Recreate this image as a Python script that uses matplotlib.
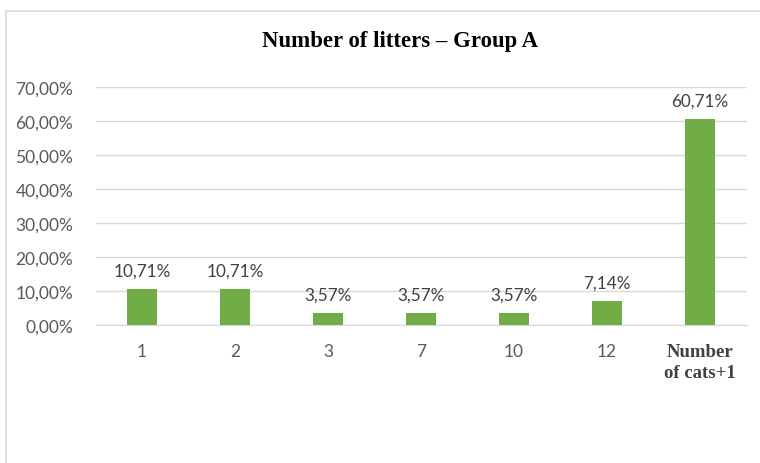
import matplotlib.pyplot as plt
from matplotlib.lines import Line2D
import numpy as np

categories = ["1", "2", "3", "7", "10", "12", "Number\nof cats+1"]
values = [10.71, 10.71, 3.57, 3.57, 3.57, 7.14, 60.71]
yticks = [0, 10, 20, 30, 40, 50, 60, 70]

fig = plt.figure(figsize=(7.6, 4.64), dpi=100)
ax = fig.add_axes([0.1257, 0.2974, 0.8566, 0.5129])

x = np.arange(len(categories))
ax.bar(x, values, width=0.32, color="#70AD47", zorder=3)

for xi, v in zip(x, values):
    ax.text(xi, v + 3.0, f"{v:.2f}%".replace(".", ","), ha="center", va="bottom",
            fontsize=12.3, color="#404040", family="Lato")

ax.set_xlim(-0.5, len(categories) - 0.5)
ax.set_ylim(0, 70)
ax.set_yticks(yticks)
ax.set_yticklabels([f"{t:.2f}%".replace(".", ",") for t in yticks],
                   fontsize=12.5, color="#595959", family="Lato")
ax.set_xticks(x)
ax.set_xticklabels(categories, fontsize=12.5, color="#595959", family="Lato")
last = ax.get_xticklabels()[-1]
last.set_family("Liberation Serif")
last.set_fontweight("bold")
last.set_fontsize(13.5)
last.set_color("#404040")
last.set_linespacing(1.3)

ax.tick_params(axis="both", length=0)
ax.tick_params(axis="x", pad=13)
ax.tick_params(axis="y", pad=16)
ax.grid(axis="y", color="#D9D9D9", linewidth=1, zorder=0)
for s in ax.spines.values():
    s.set_visible(False)
ax.spines["bottom"].set_visible(True)
ax.spines["bottom"].set_color("#D9D9D9")

fig.text(400 / 760, 1 - 42 / 464, "Number of litters – Group A", ha="center", va="center",
         fontsize=16.4, fontweight="bold", family="Liberation Serif")

# outer chart frame (left and top edges visible)
fig.add_artist(Line2D([6 / 760, 6 / 760], [0, 1 - 12 / 464], color="#D9D9D9", linewidth=1.2,
                      transform=fig.transFigure))
fig.add_artist(Line2D([6 / 760, 1], [1 - 12 / 464, 1 - 12 / 464], color="#D9D9D9", linewidth=1.2,
                      transform=fig.transFigure))

plt.savefig("out.png")
